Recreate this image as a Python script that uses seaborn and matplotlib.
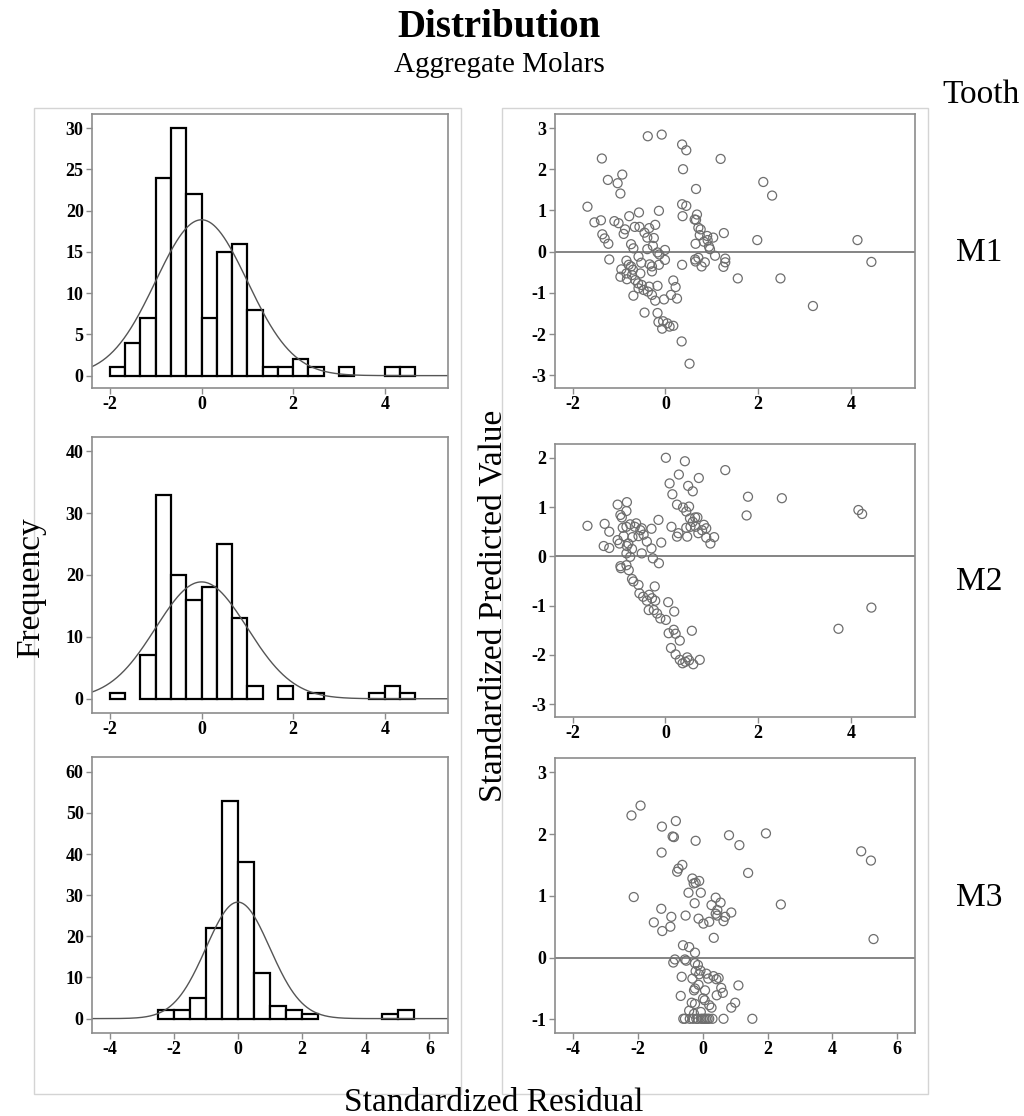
import matplotlib
matplotlib.use('Agg')
import matplotlib.pyplot as plt
import numpy as np
import pandas as pd
import seaborn as sns
from matplotlib.patches import Rectangle

# Histogram counts (Standardized Residual)
m1_bin_start, m1_bin_width = -2.0, 1 / 3
m1_counts = [1, 4, 7, 24, 30, 22, 7, 15, 16, 8, 1, 1, 2, 1, 0, 1, 0, 0, 1, 1]
m2_bin_start, m2_bin_width = -2.0, 1 / 3
m2_counts = [1, 0, 7, 33, 20, 16, 18, 25, 13, 2, 0, 2, 0, 1, 0, 0, 0, 1, 2, 1]
m3_bin_start, m3_bin_width = -2.5, 0.5
m3_counts = [2, 2, 5, 22, 53, 38, 11, 3, 2, 1, 0, 0, 0, 0, 1, 2]

# Scatter: standardized residual (x) vs standardized predicted value (y)
m1_resid = [-0.38, -0.08, 0.36, 0.45, -1.37, 1.19, 0.38, -0.93, -1.24, -1.03, 2.11, 2.30,
            -0.97, 0.66, -1.68, 0.36, 0.45, -0.14, -0.57, -1.53, -1.39, -1.10, -1.01, -0.78,
            0.37, 0.68, 0.63, 0.66, -0.66, -0.56, -0.35, -0.22, -0.45, -0.87, -0.90, -1.36,
            -1.31, -1.23, 0.71, 0.76, 0.74, -0.39, -0.25, 0.90, 1.03, 1.26, 1.98, 4.14,
            4.44, 0.65, 0.83, 0.91, 0.94, 0.96, -0.74, -0.69, -0.27, -0.39, -0.17, -0.01,
            -0.13, -0.01, -0.58, -0.52, -1.21, 1.07, 0.64, 0.71, 0.65, 0.78, 0.85, 1.29,
            1.29, 1.25, 0.36, -0.34, -0.29, -0.14, -0.29, -0.84, -0.79, -0.74, -0.95, -0.70,
            -0.84, -0.72, -0.97, -0.83, -0.65, -0.54, -0.59, -0.51, -0.47, -0.38, -0.58, -0.69,
            -0.29, -0.35, -0.17, 0.17, 0.22, 0.12, 0.25, -0.03, -0.22, 1.56, 2.48, 3.18,
            -0.45, -0.17, -0.15, -0.05, 0.04, -0.07, 0.09, 0.17, 0.35, 0.52]
m1_pred = [2.80, 2.84, 2.60, 2.46, 2.26, 2.25, 2.00, 1.87, 1.74, 1.66, 1.69, 1.36,
           1.41, 1.52, 1.09, 1.15, 1.11, 0.99, 0.95, 0.71, 0.76, 0.74, 0.69, 0.86,
           0.86, 0.90, 0.78, 0.77, 0.60, 0.60, 0.57, 0.65, 0.46, 0.54, 0.43, 0.42,
           0.32, 0.19, 0.58, 0.54, 0.40, 0.34, 0.33, 0.38, 0.34, 0.45, 0.28, 0.28,
           -0.25, 0.19, 0.24, 0.28, 0.12, 0.06, 0.18, 0.08, 0.14, 0.06, -0.02, 0.04,
           -0.07, -0.20, -0.12, -0.27, -0.19, -0.10, -0.19, -0.15, -0.24, -0.36, -0.26, -0.17,
           -0.26, -0.37, -0.32, -0.31, -0.36, -0.32, -0.48, -0.22, -0.32, -0.36, -0.43, -0.44,
           -0.53, -0.57, -0.61, -0.67, -0.69, -0.53, -0.77, -0.81, -0.93, -0.97, -0.89, -1.07,
           -1.05, -0.85, -0.83, -0.70, -0.86, -1.05, -1.14, -1.16, -1.19, -0.65, -0.65, -1.32,
           -1.48, -1.49, -1.71, -1.69, -1.74, -1.87, -1.82, -1.80, -2.18, -2.72]

m2_resid = [0.01, 0.42, 1.29, 0.29, 0.72, 0.09, 0.49, 0.59, 0.15, 1.78, 2.51, 1.75,
            4.16, 4.24, 4.44, 3.73, 0.25, 0.38, 0.51, 0.45, 0.53, 0.64, 0.69, 0.59,
            0.54, 0.45, 0.65, 0.83, 0.88, 0.71, 0.79, 0.47, 0.25, 0.28, 0.13, 0.88,
            0.97, 1.05, -0.15, -0.09, -0.30, -0.30, -0.27, -0.14, -0.40, -0.51, -1.03, -0.83,
            -0.84, -0.97, -0.94, -1.68, -1.31, -1.21, -1.33, -1.21, -1.03, -0.99, -0.90, -0.92,
            -0.84, -0.76, -0.66, -0.63, -0.54, -0.51, -0.58, -0.71, -0.47, -0.80, -0.83, -0.72,
            -0.84, -0.76, -0.97, -0.96, -0.84, -0.79, -0.72, -0.69, -0.58, -0.56, -0.48, -0.40,
            -0.35, -0.29, -0.23, -0.22, -0.36, -0.25, -0.18, -0.11, 0.01, 0.06, 0.19, 0.07,
            0.18, 0.22, 0.31, 0.57, 0.12, 0.22, 0.31, 0.37, 0.47, 0.51, 0.43, 0.60, 0.74]
m2_pred = [2.00, 1.93, 1.75, 1.66, 1.59, 1.48, 1.43, 1.32, 1.26, 1.21, 1.18, 0.83,
           0.94, 0.86, -1.04, -1.47, 1.05, 0.99, 1.01, 0.91, 0.77, 0.79, 0.79, 0.70,
           0.60, 0.58, 0.60, 0.64, 0.57, 0.47, 0.53, 0.40, 0.40, 0.47, 0.60, 0.38,
           0.26, 0.39, 0.74, 0.28, 0.56, 0.16, -0.04, -0.14, 0.30, 0.06, 1.05, 1.10,
           0.92, 0.84, 0.79, 0.62, 0.66, 0.50, 0.21, 0.17, 0.33, 0.26, 0.41, 0.58,
           0.60, 0.65, 0.60, 0.67, 0.53, 0.57, 0.41, 0.39, 0.44, 0.26, 0.21, 0.15,
           0.06, -0.01, -0.20, -0.24, -0.18, -0.28, -0.46, -0.51, -0.58, -0.75, -0.82, -0.90,
           -0.78, -0.85, -0.61, -0.90, -1.09, -1.09, -1.16, -1.26, -1.29, -0.93, -1.12, -1.56,
           -1.49, -1.57, -1.71, -1.51, -1.86, -1.99, -2.10, -2.17, -2.05, -2.11, -2.14, -2.19, -2.10]

m3_resid = [-1.92, -2.20, -1.26, -0.83, -0.93, -0.89, -0.22, 0.81, 1.95, 1.13, 4.89, 5.19,
            5.27, -1.27, -0.63, -0.75, -0.79, 1.40, -0.32, -0.28, -0.22, -0.11, -0.44, -0.06,
            -2.13, -0.25, 0.40, 0.55, 0.27, 0.45, 0.40, 0.45, 0.69, 0.88, 0.64, 2.41,
            -1.28, -0.97, -0.53, -0.13, 0.02, 0.20, -1.51, -1.00, -1.25, 0.34, -0.61, -0.42,
            -0.24, -0.86, -0.91, -0.55, -0.51, -0.24, -0.15, -0.07, -0.22, -0.11, 0.11, 0.17,
            0.33, 0.42, 0.49, -0.65, -0.32, 1.10, 0.57, 0.62, -0.13, -0.24, -0.27, 0.07,
            0.43, -0.68, -0.34, -0.24, 0.01, 0.06, 0.20, 0.27, 1.00, 0.88, -0.42, -0.27,
            -0.06, -0.60, -0.55, -0.40, -0.30, -0.20, -0.15, -0.05, 0.00, 0.05, 0.10, 0.15,
            0.20, 0.30, 0.64, 1.53]
m3_pred = [2.46, 2.30, 2.12, 2.21, 1.96, 1.95, 1.89, 1.98, 2.01, 1.82, 1.72, 1.57,
           0.30, 1.70, 1.50, 1.44, 1.39, 1.37, 1.28, 1.20, 1.21, 1.24, 1.05, 1.05,
           0.98, 0.88, 0.97, 0.89, 0.85, 0.77, 0.71, 0.68, 0.66, 0.73, 0.59, 0.86,
           0.79, 0.66, 0.68, 0.63, 0.55, 0.58, 0.57, 0.50, 0.43, 0.32, 0.20, 0.17,
           0.08, -0.03, -0.08, -0.03, -0.05, -0.09, -0.12, -0.21, -0.22, -0.27, -0.26, -0.34,
           -0.30, -0.35, -0.33, -0.31, -0.34, -0.45, -0.49, -0.57, -0.44, -0.50, -0.53, -0.53,
           -0.61, -0.62, -0.73, -0.75, -0.66, -0.69, -0.77, -0.81, -0.73, -0.81, -0.86, -0.91,
           -0.88, -0.99, -0.99, -0.99, -0.99, -0.99, -0.99, -0.99, -0.99, -0.99, -0.99, -0.99,
           -0.99, -0.99, -0.99, -0.99]

teeth = ['M1', 'M2', 'M3']

sns.set_style('white')
plt.rcParams['font.family'] = ['Liberation Serif', 'DejaVu Serif']
plt.rcParams['text.color'] = 'black'
plt.rcParams['xtick.labelcolor'] = 'black'
plt.rcParams['ytick.labelcolor'] = 'black'
plt.rcParams['axes.unicode_minus'] = False

W, H = 1024, 1116
fig = plt.figure(figsize=(W / 100, H / 100), dpi=100)


def px_rect(left, top, right, bottom):
    return [left / W, 1 - bottom / H, (right - left) / W, (bottom - top) / H]


def style_axes(ax):
    for s in ax.spines.values():
        s.set_color('#8c8c8c')
        s.set_linewidth(1.2)
        s.set_visible(True)
    ax.tick_params(axis='both', direction='out', length=4, width=1, color='#8c8c8c',
                   labelsize=13, pad=2, left=True, bottom=True)
    for lab in ax.get_xticklabels() + ax.get_yticklabels():
        lab.set_fontweight('bold')
    ax.set_xlabel('')
    ax.set_ylabel('')


# faint panel frames
for l, r in [(34, 461), (502, 928)]:
    fig.patches.append(Rectangle((l / W, 1 - 1094 / H), (r - l) / W, (1094 - 108) / H,
                                 transform=fig.transFigure, fill=False,
                                 edgecolor='#d4d4d4', linewidth=1))

hist_specs = [
    (m1_bin_start, m1_bin_width, m1_counts, (-2.39, 5.38), (-1.5, 31.7), [0, 5, 10, 15, 20, 25, 30], [-2, 0, 2, 4], (114, 388)),
    (m2_bin_start, m2_bin_width, m2_counts, (-2.39, 5.38), (-2.3, 42.3), [0, 10, 20, 30, 40], [-2, 0, 2, 4], (437, 713)),
    (m3_bin_start, m3_bin_width, m3_counts, (-4.57, 6.58), (-3.5, 63.6), [0, 10, 20, 30, 40, 50, 60], [-4, -2, 0, 2, 4, 6], (757, 1033)),
]

for start, bw, counts, xl, yl, yt, xt, (top, bot) in hist_specs:
    ax = fig.add_axes(px_rect(92, top, 448, bot))
    edges = (start + bw * np.arange(len(counts) + 1)).tolist()
    df = pd.DataFrame({'resid': [e + bw / 2 for e in edges[:-1]], 'count': counts})
    sns.histplot(data=df, x='resid', weights='count', bins=edges, ax=ax, stat='count',
                 color='white', edgecolor='black', linewidth=1.6, alpha=1)
    for p in list(ax.patches):
        if p.get_height() == 0:
            p.remove()
    n = sum(counts)
    xs = np.linspace(xl[0], xl[1], 400)
    curve = n * bw * np.exp(-xs ** 2 / 2) / np.sqrt(2 * np.pi)
    sns.lineplot(x=xs, y=curve, ax=ax, color='#555555', linewidth=1)
    ax.set_xlim(*xl)
    ax.set_ylim(*yl)
    ax.set_yticks(yt)
    ax.set_xticks(xt)
    style_axes(ax)

scatter_specs = [
    (m1_resid, m1_pred, (-2.38, 5.38), (-3.31, 3.34), [-3, -2, -1, 0, 1, 2, 3], [-2, 0, 2, 4], (114, 388)),
    (m2_resid, m2_pred, (-2.38, 5.38), (-3.26, 2.28), [-3, -2, -1, 0, 1, 2], [-2, 0, 2, 4], (444, 717)),
    (m3_resid, m3_pred, (-4.56, 6.55), (-1.22, 3.23), [-1, 0, 1, 2, 3], [-4, -2, 0, 2, 4, 6], (758, 1033)),
]

for (xr, yp, xl, yl, yt, xt, (top, bot)), tooth in zip(scatter_specs, teeth):
    ax = fig.add_axes(px_rect(555, top, 915, bot))
    ax.axhline(0, color='#707070', linewidth=1.2, zorder=1)
    sns.scatterplot(x=xr, y=yp, ax=ax, s=42, marker='o', facecolor='none',
                    edgecolor='#6e6e6e', linewidth=0.9, zorder=2)
    ax.set_xlim(*xl)
    ax.set_ylim(*yl)
    ax.set_yticks(yt)
    ax.set_xticks(xt)
    style_axes(ax)
    base = (top + bot) / 2 + 10
    fig.text(979 / W, 1 - base / H, tooth, fontsize=24, ha='center', va='baseline')

fig.text(499 / W, 1 - 37 / H, 'Distribution', fontsize=28, fontweight='bold',
         ha='center', va='baseline')
fig.text(499 / W, 1 - 72 / H, 'Aggregate Molars', fontsize=21, ha='center', va='baseline')
fig.text(981 / W, 1 - 103 / H, 'Tooth', fontsize=24, ha='center', va='baseline')
fig.text(31 / W, 1 - 588 / H, 'Frequency', fontsize=24, rotation=90, ha='center', va='center')
fig.text(493 / W, 1 - 606 / H, 'Standardized Predicted Value', fontsize=24, rotation=90,
         ha='center', va='center')
fig.text(494 / W, 1 - 1111 / H, 'Standardized Residual', fontsize=24, ha='center', va='baseline')

fig.savefig('out.png', dpi=100, facecolor='white')
